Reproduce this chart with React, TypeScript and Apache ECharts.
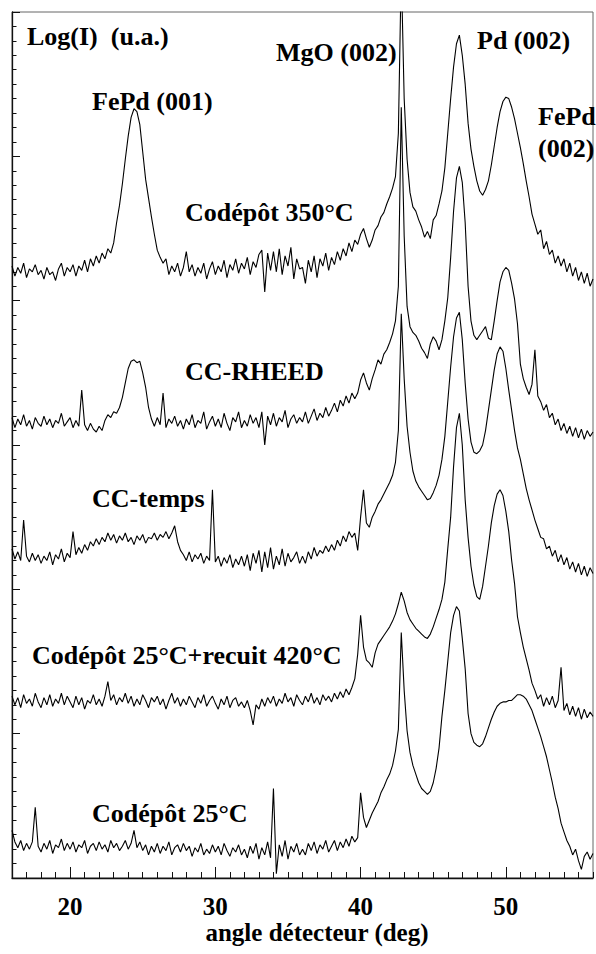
import React, { useEffect, useRef } from "react";
import * as echarts from "echarts";

// Detector angle grid (deg), one sample every 0.2 deg from 16 to 56
const ANGLE_MIN = 16;
const ANGLE_MAX = 56;
const ANGLE_STEP = 0.2;
const SAMPLE_COUNT = 201;
const angles: number[] = Array.from({ length: SAMPLE_COUNT }, (_, i) =>
  Math.round((ANGLE_MIN + i * ANGLE_STEP) * 10) / 10
);

const xTickLabels = [20, 30, 40, 50];

// Offset log-intensity (arbitrary units)
const codepot350 = [
  42.4, 41.7, 42.3, 41.9, 42.6, 41.6, 42.2, 42.0, 42.5, 41.8,
  42.1, 41.5, 42.3, 41.8, 42.0, 41.4, 42.2, 42.6, 41.7, 42.3,
  42.0, 42.5, 41.7, 42.4, 42.1, 42.8, 42.0, 42.9, 42.4, 43.1,
  42.6, 43.3, 42.9, 43.6, 43.3, 44.0, 45.4, 46.6, 48.1, 49.8,
  51.4, 52.7, 53.3, 53.1, 52.2, 50.3, 48.4, 47.1, 45.8, 44.6,
  43.5, 43.0, 42.6, 42.9, 41.8, 42.4, 42.0, 42.6, 41.7, 42.3,
  43.4, 42.0, 42.5, 41.7, 42.3, 41.9, 42.6, 41.5, 42.2, 42.7,
  41.8, 42.4, 42.0, 42.8, 41.6, 42.5, 42.1, 42.9, 41.9, 42.6,
  42.2, 43.0, 41.8, 42.7, 42.3, 43.2, 43.5, 40.6, 43.3, 42.1,
  43.4, 42.0, 43.6, 41.8, 43.1, 42.4, 43.7, 41.5, 42.9, 42.2,
  42.3, 41.2, 42.8, 42.0, 43.1, 41.6, 42.9, 42.4, 43.3, 42.1,
  43.0, 42.5, 43.4, 42.8, 43.6, 43.1, 44.0, 43.4, 44.2, 43.9,
  44.6, 45.0, 44.3, 43.7, 44.2, 44.9, 45.2, 45.8, 46.1, 46.7,
  47.2, 47.8, 48.6, 51.6, 63.0, 54.0, 49.8, 47.5, 46.5, 46.2,
  45.6, 45.1, 44.4, 44.8, 44.3, 45.6, 45.9, 46.7, 47.6, 49.2,
  51.6, 54.0, 56.2, 57.8, 58.4, 57.0, 55.0, 52.3, 50.5, 49.3,
  48.3, 47.6, 47.3, 47.7, 48.3, 49.4, 50.7, 52.0, 53.1, 53.8,
  54.1, 54.0, 53.4, 52.6, 51.6, 50.6, 49.5, 48.3, 47.2, 46.0,
  45.3, 44.6, 44.9, 43.6, 44.1, 43.2, 43.5, 42.6, 43.1, 42.4,
  42.9, 42.0, 42.6, 41.7, 42.3, 41.4, 42.0, 41.2, 41.9, 41.0,
  41.5,
];

const ccRheed = [
  31.9, 31.2, 31.8, 31.4, 32.1, 31.3, 31.7, 31.1, 31.9, 31.5,
  31.3, 32.0, 31.4, 31.8, 31.2, 31.7, 31.5, 32.2, 31.3, 31.6,
  31.9, 31.2, 31.7, 31.3, 33.8, 31.4, 31.0, 31.5, 31.1, 30.9,
  31.3, 31.0, 31.7, 32.1, 31.9, 32.3, 32.2, 32.6, 33.3, 34.3,
  35.3, 35.8, 35.9, 35.7, 35.8, 35.0, 34.0, 32.6, 31.8, 31.3,
  31.9, 31.4, 33.6, 31.2, 31.8, 31.5, 32.0, 31.3, 31.7, 31.1,
  31.8, 31.4, 32.1, 31.2, 31.7, 31.5, 32.3, 31.1, 31.6, 32.0,
  31.3, 31.8, 31.2, 32.2, 31.5, 31.0, 31.9, 31.6, 32.3, 31.2,
  31.7, 31.3, 32.1, 31.5, 31.9, 31.2, 32.3, 30.0, 32.0, 31.4,
  32.2, 31.3, 31.9, 31.6, 32.4, 31.2, 31.8, 32.1, 31.5, 31.9,
  31.6, 32.3, 31.5, 32.0, 32.5, 31.7, 32.2, 31.9, 32.6, 32.0,
  32.4, 32.9, 32.3, 33.1, 32.7, 33.4, 32.9, 33.6, 33.2, 33.6,
  34.5, 35.0, 34.3, 33.8, 34.6, 35.2, 35.9, 35.6, 36.3, 36.6,
  37.1, 37.7, 38.6, 41.0, 53.4, 44.5, 39.6, 38.2, 37.8, 37.6,
  37.2, 36.7, 36.4, 36.0, 37.0, 37.5, 37.2, 36.6, 37.3, 38.6,
  40.2, 43.0, 46.2, 48.5, 49.3, 48.2, 45.4, 41.0, 38.6, 37.6,
  37.3, 37.6, 37.9, 38.2, 37.4, 37.3, 38.6, 40.0, 41.3, 42.0,
  42.3, 42.1, 41.2, 40.1, 38.4, 35.6, 34.6, 34.0, 33.5, 34.2,
  36.6, 33.4, 33.0, 32.4, 32.8, 31.9, 32.2, 31.4, 31.8, 31.0,
  31.5, 30.8, 31.3, 30.6, 31.2, 30.5, 31.1, 30.4, 31.0, 30.6,
  30.9,
];

const ccTemps = [
  22.8, 22.1, 22.6, 22.0, 24.8, 22.3, 21.9, 22.5, 22.0, 22.4,
  21.8, 22.3, 22.0, 22.6, 21.7, 22.4, 22.1, 22.8, 21.9, 22.5,
  22.2, 24.0, 22.4, 22.9, 22.5, 23.1, 22.7, 23.3, 23.0, 23.5,
  23.1, 23.6, 23.3, 23.9, 23.4, 23.8, 23.2, 23.7, 23.4, 23.9,
  23.3, 23.6, 23.1, 23.7, 23.4, 23.8, 23.2, 23.6, 23.5, 23.9,
  23.4, 23.8, 23.6, 24.0, 23.5, 23.9, 24.4, 23.3, 22.7, 22.4,
  22.0, 22.6, 21.9, 22.4, 22.1, 22.5, 21.8, 22.3, 22.0, 26.9,
  21.9, 22.3, 21.6, 22.2, 21.8, 22.4, 21.5, 22.1, 21.7, 22.3,
  21.6, 22.4, 21.3, 22.5, 21.8, 22.7, 21.2, 22.6, 21.5, 22.9,
  21.4, 22.3, 21.7, 22.8, 21.6, 22.5, 21.9, 22.2, 22.6, 21.8,
  22.3, 21.8, 22.6, 22.1, 22.9, 22.3, 22.7, 22.5, 23.0, 22.6,
  23.1, 22.7, 23.4, 23.0, 23.7, 23.3, 24.0, 23.6, 23.9, 22.7,
  25.0, 26.9, 24.6, 24.3, 25.0, 25.4, 25.9, 26.2, 26.6, 27.0,
  27.4, 27.9, 28.8, 31.0, 39.1, 34.6, 31.3, 29.5, 28.2, 27.5,
  27.1, 26.8, 26.5, 26.2, 26.3, 26.7, 27.2, 27.9, 29.0, 30.6,
  33.0, 35.4, 37.5, 38.8, 39.2, 37.3, 34.3, 31.8, 30.2, 29.5,
  29.4, 29.6, 30.0, 31.0, 32.4, 33.8, 35.2, 36.3, 36.8, 36.5,
  35.3, 33.8, 32.4, 31.0, 29.8, 29.0, 28.0, 27.0, 26.2, 25.5,
  24.8, 24.2, 23.6, 23.5, 22.8, 23.0, 22.3, 22.7, 21.9, 22.4,
  21.7, 22.2, 21.4, 21.9, 21.2, 21.8, 21.0, 21.6, 20.9, 21.5,
  21.1,
];

const recuit420 = [
  12.6, 12.0, 12.5, 11.8, 12.7, 12.1, 12.4, 11.9, 12.8, 12.2,
  11.8, 12.5, 12.0, 12.7, 11.9, 12.4, 12.1, 12.8, 12.0, 12.6,
  12.2, 11.8, 12.6, 12.0, 12.5, 11.7, 12.3, 12.1, 12.7, 12.0,
  12.4, 11.9, 12.6, 13.6, 12.3, 12.7, 12.0, 12.5, 12.2, 12.8,
  12.1, 12.6, 11.9, 12.4, 12.0, 12.7, 12.3, 11.8, 12.5, 12.2,
  12.6, 12.0, 12.4, 11.7, 12.3, 12.8, 12.1, 12.5, 11.9, 12.4,
  12.0, 12.6, 12.2, 11.8, 12.5, 12.1, 12.7, 11.9, 12.3, 12.6,
  12.1, 11.7, 12.4, 12.0, 12.6, 11.8, 12.3, 12.5, 11.9, 12.2,
  11.8, 12.3, 11.6, 10.6, 12.0, 11.7, 12.4, 11.9, 12.5, 12.1,
  12.6, 11.9, 12.4, 12.1, 12.8, 12.2, 12.5, 11.9, 12.7, 12.3,
  12.0, 12.6, 12.2, 12.8, 12.1, 12.5, 12.0, 12.7, 12.3, 12.6,
  12.2, 12.8, 12.4, 12.9, 12.5, 13.1, 12.7, 13.2, 13.8, 15.5,
  18.2, 16.0, 15.1, 14.9, 14.6, 15.6, 16.2, 16.5, 16.8, 17.1,
  17.4, 17.8, 18.3, 19.0, 19.8, 19.2, 18.4, 17.9, 17.6, 17.3,
  17.1, 16.9, 16.7, 16.6, 16.9, 17.4, 18.0, 18.6, 19.3, 20.5,
  22.8, 25.0, 28.5, 31.2, 32.2, 30.0, 26.2, 23.6, 21.6, 20.3,
  19.5, 19.3, 20.2, 21.6, 23.0, 24.6, 25.8, 26.6, 26.9, 26.5,
  25.4, 24.0, 22.0, 20.4, 18.1, 17.0, 16.0, 15.2, 14.4, 13.5,
  13.0, 12.4, 12.7, 11.9, 12.5, 12.0, 12.6, 11.8, 12.3, 14.6,
  11.6, 12.1, 11.3, 11.9, 11.2, 11.8, 11.0, 11.7, 11.1, 11.5,
  11.2,
];

const codepot25 = [
  3.3, 2.5, 2.1, 2.6, 1.9, 2.4, 2.0, 2.5, 4.9, 2.2,
  1.8, 2.4, 2.0, 2.6, 1.7, 2.3, 2.1, 2.7, 1.9, 2.4,
  2.0, 2.5, 1.8, 2.3, 2.1, 2.6, 1.7, 2.2, 2.4, 1.9,
  2.5, 2.0, 2.3, 1.8, 2.6, 2.1, 2.4, 1.9, 2.2, 2.6,
  2.0, 2.4, 3.3, 2.1, 2.5, 1.9, 2.3, 1.6, 2.2, 1.8,
  2.4, 1.7, 2.2, 1.9, 2.5, 1.6, 2.1, 2.3, 1.8, 2.4,
  1.9, 2.2, 1.5, 2.1, 1.8, 2.4, 1.6, 2.0, 1.7, 2.3,
  1.8, 2.2, 1.6, 2.4, 1.9, 1.5, 2.1, 1.8, 2.3, 1.6,
  2.0, 1.4, 2.2, 1.7, 2.4, 1.3, 2.1, 1.6, 2.5, 1.4,
  6.2, 0.3, 2.3, 1.5, 2.6, 1.3, 2.2, 1.8, 2.4, 1.6,
  2.0, 1.6, 2.4, 1.9, 2.5, 1.7, 2.3, 2.0, 2.6, 1.8,
  2.2, 2.6, 1.9, 2.5, 2.1, 2.7, 2.2, 2.9, 2.5, 2.8,
  5.9, 4.2, 3.5, 4.0, 4.5, 4.9, 5.3, 5.9, 6.3, 6.8,
  7.2, 7.8, 8.8, 10.3, 17.0, 13.0, 10.2, 8.7, 7.8, 7.2,
  6.6, 6.2, 6.0, 5.8, 6.0, 6.6, 7.6, 9.0, 11.2, 13.0,
  15.0, 17.0, 18.2, 18.8, 18.5, 16.6, 14.5, 11.4, 10.0, 9.4,
  9.2, 9.1, 9.3, 9.8, 10.4, 11.0, 11.5, 11.9, 12.1, 12.2,
  12.2, 12.3, 12.3, 12.5, 12.7, 12.7, 12.6, 12.4, 12.0, 11.6,
  11.0, 10.4, 9.8, 9.1, 8.4, 7.5, 6.6, 5.6, 4.8, 3.8,
  3.2, 2.6, 2.2, 1.6, 2.0, 1.2, 0.6, 1.5, 1.8, 1.3,
  1.7,
];

const seriesList = [
  { name: "Codépôt 350°C", values: codepot350 },
  { name: "CC-RHEED", values: ccRheed },
  { name: "CC-temps", values: ccTemps },
  { name: "Codépôt 25°C+recuit 420°C", values: recuit420 },
  { name: "Codépôt 25°C", values: codepot25 },
];

const FONT = '"Liberation Serif", "Times New Roman", serif';

function label(text: string, x: number, y: number, align = "left", lineHeight = 24, fontSize = 26) {
  return {
    type: "text",
    x,
    y,
    silent: true,
    z: 10,
    style: {
      text,
      fill: "#000",
      fontFamily: FONT,
      fontWeight: "bold",
      fontSize,
      lineHeight,
      align,
      textAlign: align,
      verticalAlign: "middle",
      textVerticalAlign: "middle",
    },
  };
}

export default function App() {
  const ref = useRef<HTMLDivElement>(null);

  useEffect(() => {
    if (!ref.current) return;
    const chart = echarts.init(ref.current, null, { renderer: "svg" });
    const option = {
      animation: false,
      backgroundColor: "#fff",
      grid: {
        left: 12,
        right: 3,
        top: 12,
        bottom: 76,
        show: true,
        borderColor: "#666",
        borderWidth: 1,
        backgroundColor: "transparent",
      },
      xAxis: [
        {
          type: "value",
          min: ANGLE_MIN,
          max: ANGLE_MAX,
          position: "bottom",
          axisLine: { show: true, lineStyle: { color: "#111", width: 1.3 } },
          axisTick: {
            show: true,
            inside: true,
            length: 11,
            customValues: xTickLabels,
            lineStyle: { color: "#111", width: 1 },
          },
          axisLabel: {
            customValues: xTickLabels,
            color: "#000",
            fontFamily: FONT,
            fontWeight: "bold",
            fontSize: 25,
            lineHeight: 18,
            margin: 19,
          },
          splitLine: { show: false },
        },
        {
          type: "value",
          min: ANGLE_MIN,
          max: ANGLE_MAX,
          interval: 1,
          position: "bottom",
          axisLine: { show: false },
          axisTick: { show: true, inside: true, length: 6, lineStyle: { color: "#111", width: 1 } },
          axisLabel: { show: false },
          splitLine: { show: false },
        },
      ],
      yAxis: {
        type: "value",
        min: 0,
        max: 60,
        interval: 10,
        axisLine: { show: true, lineStyle: { color: "#111", width: 1.3 } },
        axisTick: { show: true, inside: true, length: 8, lineStyle: { color: "#111", width: 1 } },
        minorTick: { show: true, splitNumber: 10, length: 4.5, lineStyle: { color: "#111", width: 1 } },
        axisLabel: { show: false },
        splitLine: { show: false },
        minorSplitLine: { show: false },
      },
      series: seriesList.map((s) => ({
        name: s.name,
        type: "line",
        xAxisIndex: 0,
        data: angles.map((a, i) => [a, s.values[i]]),
        showSymbol: false,
        symbol: "none",
        silent: true,
        clip: true,
        lineStyle: { color: "#000", width: 1.1 },
      })),
      graphic: [
        label("Log(I)  (u.a.)", 27, 36),
        label("FePd (001)", 92, 101),
        label("MgO (002)", 276, 52),
        label("Pd (002)", 477, 40),
        label("FePd\n(002)", 538, 132, "left", 32),
        label("Codépôt 350°C", 185, 212),
        label("CC-RHEED", 185, 371),
        label("CC-temps", 92, 498),
        label("Codépôt 25°C+recuit 420°C", 32, 655),
        label("Codépôt 25°C", 92, 813),
        label("angle détecteur (deg)", 317, 932, "center", 18, 25),
      ],
    };
    chart.setOption(option as any);
    return () => chart.dispose();
  }, []);

  return (
    <div
      ref={ref}
      style={{ position: "fixed", left: 0, top: 0, width: 596, height: 954, background: "#fff" }}
    />
  );
}
